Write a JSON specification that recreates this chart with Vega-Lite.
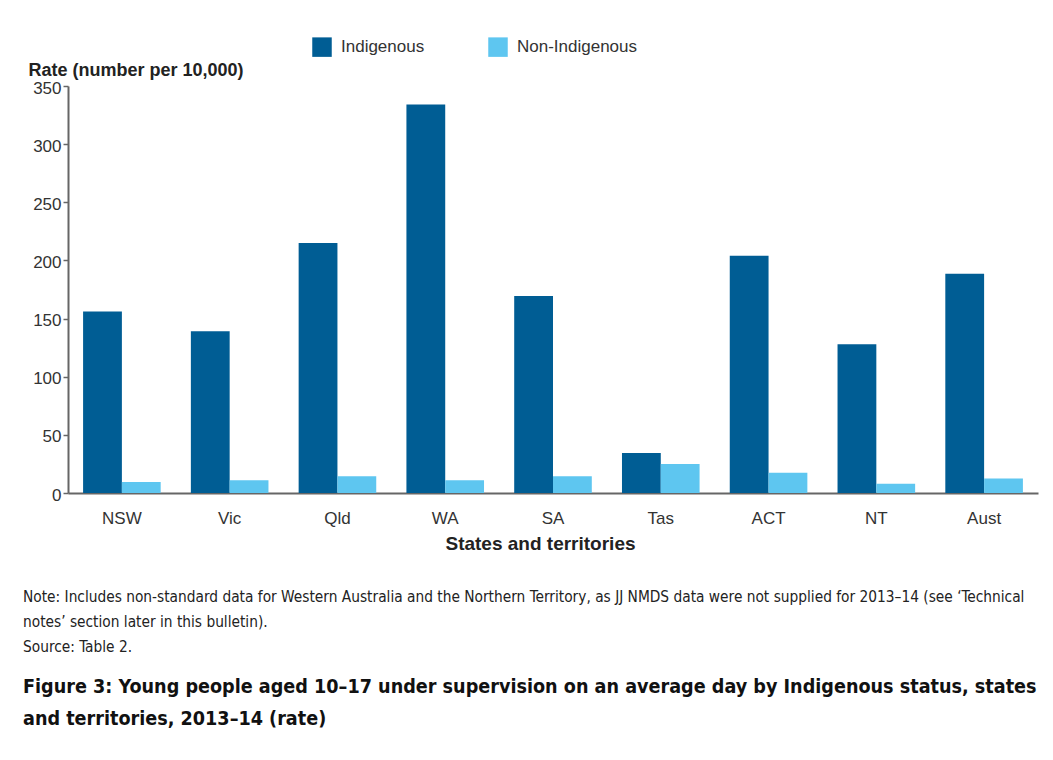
{
  "$schema": "https://vega.github.io/schema/vega-lite/v6.json",
  "width": 970,
  "height": 407,
  "autosize": {"type": "none"},
  "padding": {"left": 68, "top": 86, "right": 15, "bottom": 267},
  "background": "white",
  "data": {
    "values": [
      {"state": "NSW", "status": "Indigenous", "rate": 156},
      {"state": "NSW", "status": "Non-Indigenous", "rate": 9.5},
      {"state": "Vic", "status": "Indigenous", "rate": 139},
      {"state": "Vic", "status": "Non-Indigenous", "rate": 11},
      {"state": "Qld", "status": "Indigenous", "rate": 215},
      {"state": "Qld", "status": "Non-Indigenous", "rate": 14.5},
      {"state": "WA", "status": "Indigenous", "rate": 334},
      {"state": "WA", "status": "Non-Indigenous", "rate": 11},
      {"state": "SA", "status": "Indigenous", "rate": 169.5},
      {"state": "SA", "status": "Non-Indigenous", "rate": 14.5},
      {"state": "Tas", "status": "Indigenous", "rate": 34.5},
      {"state": "Tas", "status": "Non-Indigenous", "rate": 25},
      {"state": "ACT", "status": "Indigenous", "rate": 204},
      {"state": "ACT", "status": "Non-Indigenous", "rate": 17.5},
      {"state": "NT", "status": "Indigenous", "rate": 128},
      {"state": "NT", "status": "Non-Indigenous", "rate": 8},
      {"state": "Aust", "status": "Indigenous", "rate": 188.5},
      {"state": "Aust", "status": "Non-Indigenous", "rate": 12.5}
    ]
  },
  "mark": {"type": "bar"},
  "encoding": {
    "x": {
      "field": "state",
      "type": "nominal",
      "sort": ["NSW", "Vic", "Qld", "WA", "SA", "Tas", "ACT", "NT", "Aust"],
      "scale": {"paddingInner": 0.28, "paddingOuter": 0.14},
      "axis": {
        "title": "States and territories",
        "titleFont": "Liberation Sans",
        "titleFontSize": 19,
        "titleFontWeight": "bold",
        "titleColor": "#222",
        "titleX": 472,
        "titleY": 41,
        "titleBaseline": "top",
        "labelAngle": 0,
        "labelFont": "Liberation Sans",
        "labelFontSize": 17,
        "labelColor": "#333",
        "labelPadding": 17,
        "ticks": false,
        "domainColor": "#666",
        "domainWidth": 2
      }
    },
    "xOffset": {
      "field": "status",
      "sort": ["Indigenous", "Non-Indigenous"],
      "scale": {"paddingInner": 0, "paddingOuter": 0}
    },
    "y": {
      "field": "rate",
      "type": "quantitative",
      "scale": {"domain": [0, 350], "nice": false},
      "axis": {
        "values": [0, 50, 100, 150, 200, 250, 300, 350],
        "grid": false,
        "title": "Rate (number per 10,000)",
        "titleAngle": 0,
        "titleAlign": "left",
        "titleBaseline": "alphabetic",
        "titleX": -40,
        "titleY": -11,
        "titleFont": "Liberation Sans",
        "titleFontSize": 18,
        "titleFontWeight": "bold",
        "titleColor": "#222",
        "labelFont": "Liberation Sans",
        "labelFontSize": 17,
        "labelColor": "#333",
        "labelPadding": 2,
        "labelBaseline": "top",
        "labelOffset": -6,
        "tickSize": 5,
        "tickColor": "#666",
        "tickWidth": 1.5,
        "domainColor": "#666",
        "domainWidth": 2
      }
    },
    "color": {
      "field": "status",
      "type": "nominal",
      "scale": {"domain": ["Indigenous", "Non-Indigenous"], "range": ["#005d94", "#5ec6f0"]},
      "legend": {
        "title": null,
        "orient": "none",
        "legendX": 244,
        "legendY": -49,
        "direction": "horizontal",
        "symbolType": "square",
        "symbolSize": 380,
        "symbolStrokeWidth": 0,
        "labelFont": "Liberation Sans",
        "labelFontSize": 17,
        "labelColor": "#333",
        "labelOffset": 9,
        "columnPadding": 63
      }
    }
  },
  "title": {
    "text": [
      "Note: Includes non-standard data for Western Australia and the Northern Territory, as JJ NMDS data were not supplied for 2013–14 (see ‘Technical",
      "notes’ section later in this bulletin).",
      "Source: Table 2."
    ],
    "subtitle": [
      "Figure 3: Young people aged 10–17 under supervision on an average day by Indigenous status, states",
      "and territories, 2013–14 (rate)"
    ],
    "orient": "bottom",
    "anchor": "start",
    "frame": "bounds",
    "dx": -5,
    "offset": 37,
    "font": "DejaVu Sans Condensed, Roboto Condensed, Liberation Sans Narrow, sans-serif",
    "fontSize": 15.3,
    "fontWeight": "normal",
    "color": "#222",
    "lineHeight": 25,
    "subtitleFont": "DejaVu Sans Condensed, Roboto Condensed, Liberation Sans Narrow, sans-serif",
    "subtitleFontSize": 19.6,
    "subtitleFontWeight": "bold",
    "subtitleColor": "#111",
    "subtitleLineHeight": 32,
    "subtitlePadding": 23
  },
  "config": {"view": {"stroke": null}}
}
